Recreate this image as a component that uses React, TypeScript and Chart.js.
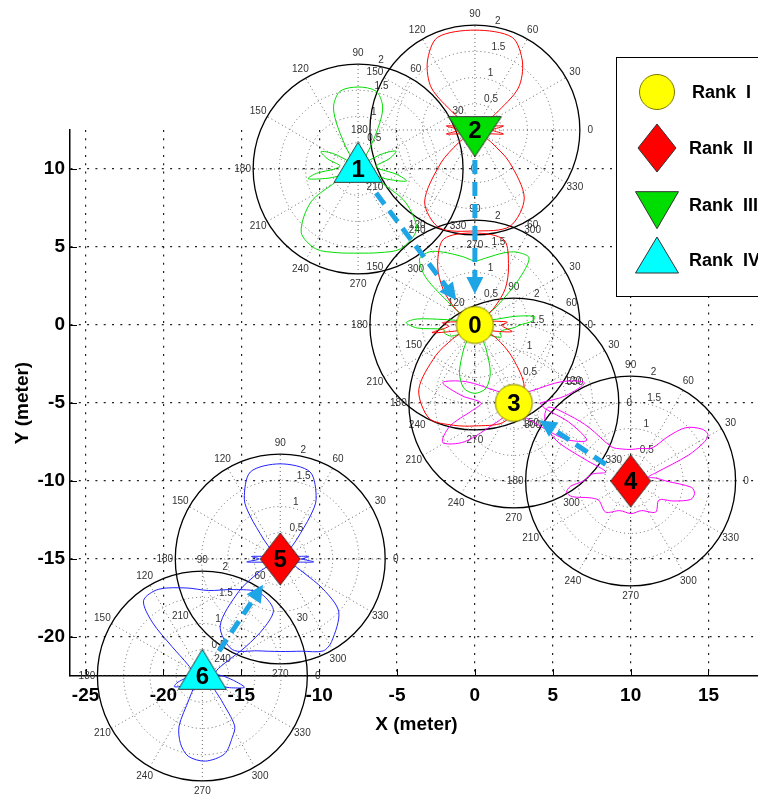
import React, { useEffect, useRef } from 'react';
import { Chart, registerables } from 'chart.js';

Chart.register(...registerables);

type PolarPt = [number, number]; // [angle in degrees, radius]

// ---------------- data ----------------
const nodeNames = ['0', '1', '2', '3', '4', '5', '6'];
const nodeX = [0, -7.5, 0, 2.5, 10, -12.5, -17.5];
const nodeY = [0, 10, 12.5, -5, -10, -15, -22.5];
const nodeRank = [0, 3, 2, 0, 1, 1, 3];
const rankLabels = ['Rank  I', 'Rank  II', 'Rank  III', 'Rank  IV'];
const arrowFrom = [1, 2, 4, 6];
const arrowTo = [0, 0, 3, 5];
const xTicks = [-25, -20, -15, -10, -5, 0, 5, 10, 15];
const yTicks = [-20, -15, -10, -5, 0, 5, 10];
const polarRings = [0.5, 1, 1.5, 2];
const polarSpokes = [30, 60, 90, 120, 150, 180];

const node0Red: PolarPt[] = [
  [0, 0.5], [5, 0.62], [12, 0.35], [28, 0.15], [42, 0.5], [50, 0.9], [60, 1.28], [71, 1.71], [90, 1.75],
  [110, 1.74], [122, 1.34], [132, 0.9], [140, 0.5], [155, 0.15], [170, 0.35], [176, 0.62], [183, 0.5],
  [190, 0.83], [197, 0.4], [205, 0.2], [212, 0.5], [218, 0.95], [229, 1.63], [244, 1.98], [258, 1.95],
  [270, 1.92], [286, 1.93], [300, 1.72], [310, 1.45], [320, 0.9], [328, 0.5], [336, 0.2], [343, 0.4],
  [350, 0.72], [356, 0.55], [360, 0.5],
];
const node0Green: PolarPt[] = [
  [0, 0.85], [4, 1.1], [8, 1.15], [12, 0.8], [18, 0.3], [32, 0.2], [41, 0.6], [46, 1.2], [51, 1.64],
  [60, 1.6], [68, 1.48], [80, 1.3], [90, 1.22], [100, 1.32], [114, 1.52], [122, 1.64], [130, 1.64],
  [136, 1.3], [140, 0.6], [148, 0.2], [163, 0.3], [170, 0.6], [174, 1.1], [178, 1.31], [183, 1.1],
  [188, 0.6], [195, 0.6], [205, 0.5], [218, 0.25], [238, 0.2], [245, 0.5], [252, 0.95], [260, 1.22],
  [270, 1.3], [280, 1.22], [288, 0.95], [295, 0.5], [305, 0.2], [322, 0.3], [335, 0.55], [345, 0.5],
  [352, 0.6], [356, 0.75], [360, 0.85],
];
const node1Green: PolarPt[] = [
  [0, 0.4], [10, 0.35], [18, 0.62], [25, 0.8], [32, 0.55], [42, 0.2], [55, 0.15], [61, 0.5], [65, 1.0],
  [69, 1.3], [77, 1.52], [90, 1.56], [103, 1.52], [111, 1.3], [115, 1.0], [119, 0.5], [125, 0.15],
  [138, 0.2], [148, 0.55], [155, 0.78], [162, 0.6], [170, 0.35], [180, 0.45], [186, 0.8], [191, 0.97],
  [197, 0.6], [204, 0.3], [210, 0.5], [215, 1.1], [228, 1.62], [242, 1.72], [256, 1.64], [270, 1.6],
  [284, 1.64], [298, 1.72], [314, 1.6], [325, 1.1], [330, 0.5], [336, 0.3], [341, 0.6], [346, 0.95],
  [352, 0.75], [360, 0.4],
];
const node2Red: PolarPt[] = [
  [0, 0.3], [8, 0.55], [14, 0.3], [30, 0.15], [38, 0.5], [44, 1.15], [55, 1.58], [68, 1.9], [90, 1.9],
  [112, 1.9], [125, 1.58], [136, 1.15], [142, 0.5], [150, 0.15], [166, 0.3], [172, 0.55], [180, 0.3],
  [188, 0.55], [194, 0.3], [212, 0.15], [218, 0.4], [224, 0.9], [235, 1.67], [250, 1.98], [270, 1.92],
  [290, 1.95], [306, 1.6], [317, 0.9], [323, 0.4], [330, 0.15], [346, 0.3], [352, 0.55], [360, 0.3],
];
const node3Magenta: PolarPt[] = [
  [0, 0.5], [8, 1.0], [16, 1.4], [24, 1.0], [35, 0.4], [60, 0.2], [90, 0.2], [120, 0.2], [145, 0.4],
  [156, 1.0], [164, 1.41], [172, 1.0], [180, 0.62], [190, 0.8], [200, 1.3], [209, 1.55], [218, 1.2],
  [228, 0.5], [250, 0.2], [270, 0.2], [290, 0.2], [315, 0.5], [325, 1.2], [333, 1.56], [341, 1.1],
  [350, 0.6], [360, 0.5],
];
const node4Magenta: PolarPt[] = [
  [0, 0.67], [6, 0.5], [13, 0.35], [18, 0.5], [24, 1.2], [28, 1.6], [31, 1.72], [36, 1.68], [44, 1.46],
  [50, 1.1], [57, 0.75], [75, 0.64], [89, 0.6], [105, 0.63], [119, 0.74], [128, 1.3], [133, 1.7],
  [138, 2.1], [143, 2.05], [148, 1.85], [152, 1.55], [155, 0.9], [160, 0.5], [170, 0.75], [180, 0.9],
  [185, 1.15], [190, 1.24], [195, 1.15], [202, 0.85], [211, 0.71], [231, 0.76], [250, 0.6], [271, 0.62],
  [290, 0.6], [309, 0.76], [326, 0.65], [335, 0.9], [343, 1.2], [349, 1.24], [354, 1.17], [360, 0.67],
];
const node5Blue: PolarPt[] = [
  [0, 0.4], [5, 0.55], [10, 0.3], [30, 0.15], [50, 0.5], [55, 1.0], [59, 1.33], [71, 1.75], [90, 1.81],
  [109, 1.75], [121, 1.33], [125, 1.0], [130, 0.5], [150, 0.15], [170, 0.3], [175, 0.55], [180, 0.4],
  [185, 0.64], [192, 0.3], [205, 0.2], [212, 0.5], [218, 1.0], [228, 1.71], [242, 1.95], [256, 1.8],
  [270, 1.76], [283, 1.8], [295, 1.93], [302, 1.85], [318, 1.5], [325, 1.0], [330, 0.5], [340, 0.25],
  [348, 0.3], [355, 0.64], [360, 0.4],
];
const node6Blue: PolarPt[] = [
  [0, 0.4], [10, 0.25], [22, 0.3], [30, 0.5], [34, 1.0], [38, 1.5], [43, 1.85], [56, 1.92], [70, 1.75],
  [86, 1.63], [100, 1.7], [117, 1.85], [128, 1.82], [133, 1.4], [136, 0.8], [142, 0.35], [160, 0.2],
  [185, 0.3], [195, 0.5], [201, 0.57], [208, 0.4], [220, 0.2], [240, 0.5], [245, 1.05], [252, 1.35],
  [260, 1.55], [272, 1.62], [286, 1.54], [296, 1.3], [303, 1.13], [308, 0.6], [318, 0.3], [338, 0.6],
  [345, 0.83], [352, 0.6], [360, 0.4],
];

const patternNode = [0, 0, 1, 2, 3, 4, 5, 6];
const patternData = [node0Red, node0Green, node1Green, node2Red, node3Magenta, node4Magenta, node5Blue, node6Blue];

// ---------------- styles ----------------
const patternColor = ['#ff0000', '#00dd00', '#00dd00', '#ff0000', '#ff00ff', '#ff00ff', '#2222ff', '#2222ff'];
const rankKind = ['circle', 'diamond', 'triDown', 'triUp'];
const rankFill = ['#ffff00', '#ff0000', '#00dd00', '#00ffff'];
const rankStroke = ['#7a7a00', '#333333', '#333333', '#333333'];
const rankMarkerW = [37, 40, 53, 48];
const rankMarkerH = [37, 52, 40, 40];
const POLAR_UNIT = 3.37; // metres per unit of pattern radius
const FONT = "'Liberation Sans', Arial, Helvetica, sans-serif";
const ARROW_COLOR = '#1ea5e6';

function shapePath(g: CanvasRenderingContext2D, kind: string, cx: number, cy: number, w: number, h: number) {
  g.beginPath();
  if (kind === 'circle') {
    g.arc(cx, cy, w / 2, 0, Math.PI * 2);
  } else if (kind === 'diamond') {
    g.moveTo(cx, cy - h / 2);
    g.lineTo(cx + w / 2, cy);
    g.lineTo(cx, cy + h / 2);
    g.lineTo(cx - w / 2, cy);
    g.closePath();
  } else if (kind === 'triUp') {
    g.moveTo(cx, cy - (2 * h) / 3);
    g.lineTo(cx + w / 2, cy + h / 3);
    g.lineTo(cx - w / 2, cy + h / 3);
    g.closePath();
  } else {
    g.moveTo(cx - w / 2, cy - h / 3);
    g.lineTo(cx + w / 2, cy - h / 3);
    g.lineTo(cx, cy + (2 * h) / 3);
    g.closePath();
  }
}

function markerCanvas(r: number): HTMLCanvasElement {
  const kind = rankKind[r];
  const w = rankMarkerW[r];
  const h = rankMarkerH[r];
  const H = kind.startsWith('tri') ? Math.ceil((4 * h) / 3) : h;
  const c = document.createElement('canvas');
  c.width = w + 4;
  c.height = H + 4;
  const g = c.getContext('2d')!;
  shapePath(g, kind, c.width / 2, c.height / 2, w, h);
  g.fillStyle = rankFill[r];
  g.fill();
  g.lineWidth = 1;
  g.strokeStyle = rankStroke[r];
  g.stroke();
  return c;
}

const overlayPlugin = {
  id: 'overlay',
  beforeDatasetsDraw(chart: any) {
    const { ctx, scales, chartArea } = chart;
    const xs = scales.x;
    const ys = scales.y;
    // inward tick marks (MATLAB style)
    ctx.save();
    ctx.strokeStyle = '#000';
    ctx.lineWidth = 1;
    xTicks.forEach((v) => {
      const px = Math.round(xs.getPixelForValue(v)) + 0.5;
      ctx.beginPath();
      ctx.moveTo(px, chartArea.bottom);
      ctx.lineTo(px, chartArea.bottom - 7);
      ctx.stroke();
    });
    yTicks.forEach((v) => {
      const py = Math.round(ys.getPixelForValue(v)) + 0.5;
      ctx.beginPath();
      ctx.moveTo(chartArea.left, py);
      ctx.lineTo(chartArea.left + 7, py);
      ctx.stroke();
    });
    ctx.restore();

    const pxPerUnit = xs.getPixelForValue(POLAR_UNIT) - xs.getPixelForValue(0);
    const rmax = polarRings[polarRings.length - 1];
    nodeX.forEach((nx, i) => {
      const cx = xs.getPixelForValue(nx);
      const cy = ys.getPixelForValue(nodeY[i]);
      ctx.save();
      ctx.strokeStyle = '#666';
      ctx.lineWidth = 1;
      ctx.setLineDash([1, 3]);
      polarRings.slice(0, -1).forEach((rv) => {
        ctx.beginPath();
        ctx.arc(cx, cy, rv * pxPerUnit, 0, Math.PI * 2);
        ctx.stroke();
      });
      polarSpokes.forEach((a) => {
        const t = (a * Math.PI) / 180;
        const R = rmax * pxPerUnit;
        ctx.beginPath();
        ctx.moveTo(cx - R * Math.cos(t), cy + R * Math.sin(t));
        ctx.lineTo(cx + R * Math.cos(t), cy - R * Math.sin(t));
        ctx.stroke();
      });
      ctx.setLineDash([]);
      ctx.strokeStyle = '#000';
      ctx.lineWidth = 1.3;
      ctx.beginPath();
      ctx.arc(cx, cy, rmax * pxPerUnit, 0, Math.PI * 2);
      ctx.stroke();
      // angle labels
      ctx.fillStyle = '#333';
      ctx.font = `10px ${FONT}`;
      ctx.textAlign = 'center';
      ctx.textBaseline = 'middle';
      const rt = 1.1 * rmax * pxPerUnit;
      polarSpokes.forEach((a) => {
        const t = (a * Math.PI) / 180;
        ctx.fillText(String(a), cx + rt * Math.cos(t), cy - rt * Math.sin(t));
        const opp = a === 180 ? 0 : a + 180;
        ctx.fillText(String(opp), cx - rt * Math.cos(t), cy + rt * Math.sin(t));
      });
      // ring labels
      ctx.textAlign = 'left';
      ctx.textBaseline = 'bottom';
      const t82 = (82 * Math.PI) / 180;
      polarRings.forEach((rv) => {
        const rr = rv * pxPerUnit;
        ctx.fillText('  ' + String(rv), cx + rr * Math.cos(t82), cy - rr * Math.sin(t82));
      });
      ctx.restore();
    });
  },
  afterDatasetsDraw(chart: any) {
    const { ctx, scales } = chart;
    const xs = scales.x;
    const ys = scales.y;
    // arrows
    arrowFrom.forEach((f, k) => {
      const t = arrowTo[k];
      const x1 = xs.getPixelForValue(nodeX[f]);
      const y1 = ys.getPixelForValue(nodeY[f]);
      const x2 = xs.getPixelForValue(nodeX[t]);
      const y2 = ys.getPixelForValue(nodeY[t]);
      const L = Math.hypot(x2 - x1, y2 - y1);
      const ux = (x2 - x1) / L;
      const uy = (y2 - y1) / L;
      const sx = x1 + ux * 30;
      const sy = y1 + uy * 30;
      const tx = x2 - ux * 31;
      const ty = y2 - uy * 31;
      const head = 17;
      const hw = 8.5;
      const bx = tx - ux * head;
      const by = ty - uy * head;
      ctx.save();
      ctx.strokeStyle = ARROW_COLOR;
      ctx.fillStyle = ARROW_COLOR;
      ctx.lineWidth = 5;
      ctx.setLineDash([14, 8]);
      ctx.beginPath();
      ctx.moveTo(sx, sy);
      ctx.lineTo(bx + ux * 2, by + uy * 2);
      ctx.stroke();
      ctx.setLineDash([]);
      ctx.beginPath();
      ctx.moveTo(tx, ty);
      ctx.lineTo(bx - uy * hw, by + ux * hw);
      ctx.lineTo(bx + uy * hw, by - ux * hw);
      ctx.closePath();
      ctx.fill();
      ctx.restore();
    });
    // node numbers
    ctx.save();
    ctx.fillStyle = '#000';
    ctx.font = `bold 24px ${FONT}`;
    ctx.textAlign = 'center';
    ctx.textBaseline = 'middle';
    nodeNames.forEach((n, i) => {
      ctx.fillText(n, xs.getPixelForValue(nodeX[i]), ys.getPixelForValue(nodeY[i]) + 1);
    });
    ctx.restore();
  },
  afterDraw(chart: any) {
    const { ctx } = chart;
    ctx.save();
    ctx.fillStyle = '#fff';
    ctx.fillRect(616, 57, 176, 240);
    ctx.strokeStyle = '#000';
    ctx.lineWidth = 1;
    ctx.strokeRect(616.5, 57.5, 175, 239);
    const legendW = [35, 38, 43, 43];
    const legendH = [35, 48, 37, 36];
    const markerY = [92, 148, 204, 261];
    const textY = [93.5, 149, 206.5, 261.5];
    rankLabels.forEach((lab, r) => {
      shapePath(ctx, rankKind[r], 657, markerY[r], legendW[r], legendH[r]);
      ctx.fillStyle = rankFill[r];
      ctx.fill();
      ctx.strokeStyle = rankStroke[r];
      ctx.lineWidth = 1;
      ctx.stroke();
      ctx.fillStyle = '#000';
      ctx.font = `bold 18px ${FONT}`;
      ctx.textAlign = 'left';
      ctx.textBaseline = 'middle';
      ctx.fillText(lab, r === 0 ? 692 : 689, textY[r]);
    });
    ctx.restore();
  },
};

export default function App() {
  const ref = useRef<HTMLCanvasElement>(null);

  useEffect(() => {
    const canvas = ref.current;
    if (!canvas) return;
    Chart.defaults.font.family = FONT;

    const markers = rankLabels.map((_, r) => markerCanvas(r));
    const datasets: any[] = [];
    rankLabels.forEach((lab, r) => {
      const idx = nodeX.map((_, i) => i).filter((i) => nodeRank[i] === r);
      datasets.push({
        label: lab,
        data: idx.map((i) => ({ x: nodeX[i], y: nodeY[i] })),
        pointStyle: markers[r],
        pointRadius: 20,
        pointHoverRadius: 20,
        showLine: false,
        clip: false,
        order: 0,
      });
    });
    patternData.forEach((pts, k) => {
      const n = patternNode[k];
      datasets.push({
        label: 'pattern ' + nodeNames[n],
        data: pts.map(([deg, r]) => ({
          x: nodeX[n] + r * POLAR_UNIT * Math.cos((deg * Math.PI) / 180),
          y: nodeY[n] + r * POLAR_UNIT * Math.sin((deg * Math.PI) / 180),
        })),
        showLine: true,
        borderColor: patternColor[k],
        borderWidth: 1,
        pointRadius: 0,
        pointHoverRadius: 0,
        tension: 0.3,
        fill: false,
        clip: false,
        order: 1,
      });
    });

    const axisFont = { size: 19, weight: 'bold' as const };
    const chart = new Chart(canvas, {
      type: 'scatter',
      data: { datasets },
      plugins: [overlayPlugin],
      options: {
        animation: false,
        responsive: false,
        devicePixelRatio: 1,
        events: [],
        layout: { padding: { top: 130, right: 37, left: 0, bottom: 0 } },
        elements: { line: { capBezierPoints: false } },
        plugins: { legend: { display: false }, tooltip: { enabled: false } },
        scales: {
          x: {
            type: 'linear',
            position: 'bottom',
            min: -26,
            max: 18.5,
            afterBuildTicks: (s: any) => {
              s.ticks = xTicks.map((v) => ({ value: v }));
            },
            afterFit: (s: any) => {
              s.height = 122;
            },
            ticks: {
              autoSkip: false,
              maxRotation: 0,
              padding: 8,
              color: '#000',
              font: axisFont,
            },
            grid: { color: '#222', lineWidth: 1.2, drawTicks: false },
            border: { display: true, color: '#000', width: 1.5, dash: [2, 6.3] },
            title: {
              display: true,
              text: 'X (meter)',
              color: '#000',
              font: axisFont,
              padding: { top: 0, bottom: 62 },
            },
          },
          y: {
            type: 'linear',
            position: 'left',
            min: -22.5,
            max: 12.5,
            afterBuildTicks: (s: any) => {
              s.ticks = yTicks.map((v) => ({ value: v }));
            },
            afterFit: (s: any) => {
              s.width = 70;
            },
            ticks: {
              autoSkip: false,
              padding: 5,
              color: '#000',
              font: axisFont,
            },
            grid: { color: '#222', lineWidth: 1.2, drawTicks: false },
            border: { display: true, color: '#000', width: 1.5, dash: [2, 6.3] },
            title: {
              display: true,
              text: 'Y (meter)',
              color: '#000',
              font: axisFont,
              padding: { top: 11, bottom: 0 },
            },
          },
        },
      } as any,
    });
    return () => chart.destroy();
  }, []);

  return (
    <div
      style={{
        position: 'absolute',
        left: 0,
        top: 0,
        width: 758,
        height: 798,
        overflow: 'hidden',
        background: '#fff',
      }}
    >
      <canvas ref={ref} width={800} height={798} style={{ display: 'block', width: 800, height: 798 }} />
    </div>
  );
}
